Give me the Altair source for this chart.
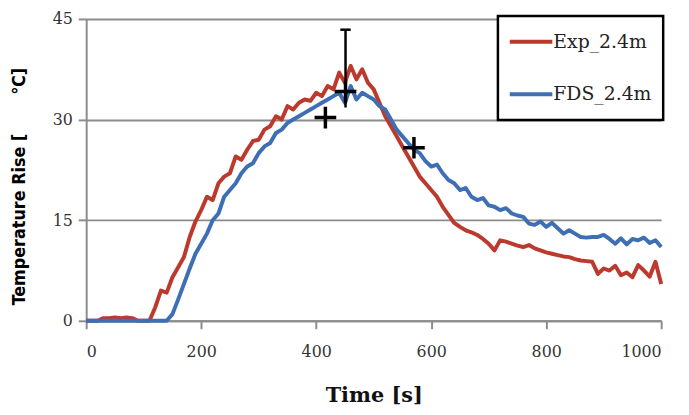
import altair as alt
import pandas as pd

# ---- data ----
exp_t = list(range(0, 1001, 10))
exp_v = [0, 0, 0, 0.4, 0.4, 0.5, 0.4, 0.5, 0.4, 0, 0, 0, 2.0, 4.5, 4.2, 6.5, 8.0, 9.5, 12.5, 14.8,
         16.5, 18.5, 18.0, 20.5, 21.5, 22.0, 24.5, 24.0, 25.5, 26.8, 27.0, 28.5, 29.0, 30.5, 30.0,
         32.0, 31.5, 32.5, 33.0, 32.8, 34.0, 33.5, 35.0, 34.5, 37.0, 35.5, 38.0, 36.0, 37.5, 35.5,
         34.5, 32.5, 30.5, 29.0, 27.5, 26.0, 24.5, 23.0, 21.5, 20.5, 19.5, 18.5, 17.0, 15.8, 14.6,
         14.0, 13.5, 13.2, 12.8, 12.2, 11.5, 10.5, 12.0, 11.8, 11.5, 11.2, 11.0, 11.3, 10.8, 10.5,
         10.2, 10.0, 9.8, 9.6, 9.5, 9.2, 9.0, 8.9, 8.8, 7.0, 7.8, 7.5, 8.2, 6.8, 7.2, 6.5, 8.3,
         7.5, 6.6, 8.8, 5.5]
fds_t = list(range(0, 1001, 10))
fds_v = [0, 0, 0, 0, 0, 0, 0, 0, 0, 0, 0, 0, 0, 0, 0, 1.0, 3.2, 5.5, 7.8, 10.0,
         11.5, 13.0, 15.0, 16.0, 18.5, 19.5, 20.5, 22.0, 23.0, 23.5, 25.0, 26.0, 26.5, 28.0, 28.5,
         29.5, 30.0, 30.5, 31.0, 31.5, 32.0, 32.5, 33.0, 33.5, 34.0, 32.5, 35.0, 33.0, 34.0, 33.5,
         33.0, 32.0, 31.5, 30.0, 28.5, 27.5, 26.5, 25.5, 25.0, 23.8, 23.0, 23.3, 22.0, 21.0, 20.5,
         19.5, 19.8, 18.5, 18.0, 18.3, 17.2, 17.0, 16.5, 16.8, 16.0, 15.7, 15.5, 14.5, 14.3, 14.8,
         14.0, 14.6, 13.8, 13.0, 13.5, 13.0, 12.5, 12.4, 12.5, 12.5, 12.8, 12.2, 11.5, 12.3, 11.4,
         12.2, 12.0, 12.4, 11.6, 12.0, 11.0]
series_names = ["Exp_2.4m", "FDS_2.4m"]
series_colors = ["#BC3A2D", "#3E6FB5"]

cross_t = [416, 451, 570]
cross_v = [30.3, 34.2, 25.8]
err_t = [451]
err_lo = [31.8]
err_hi = [43.4]

x_ticks = [0, 200, 400, 600, 800, 1000]
y_ticks = [0, 15, 30, 45]

# ---- tables ----
df = pd.concat([
    pd.DataFrame({"t": exp_t, "v": exp_v, "s": series_names[0], "o": 0}),
    pd.DataFrame({"t": fds_t, "v": fds_v, "s": series_names[1], "o": 1}),
])
cross_df = pd.DataFrame({"t": cross_t, "v": cross_v})
err_df = pd.DataFrame({"t": err_t, "lo": err_lo, "hi": err_hi})
leg_df = pd.DataFrame({"s": series_names, "c": series_colors})

serif = "DejaVu Serif"
grey = "#8C8C8C"

x_scale = alt.Scale(domain=[0, 1000], nice=False, zero=False)
y_scale = alt.Scale(domain=[0, 45], nice=False)
color_scale = alt.Scale(domain=series_names, range=series_colors)

lines = alt.Chart(df).mark_line(strokeWidth=4, strokeJoin="round").encode(
    x=alt.X("t:Q", scale=x_scale, axis=alt.Axis(
        values=x_ticks, format="d", title="Time [s]", grid=False, domainColor=grey,
        domainWidth=2, tickColor=grey, tickWidth=2, tickSize=8, labelFont=serif,
        labelFontSize=16, labelColor="#333333", labelPadding=15, titleFont=serif,
        titleFontSize=21, titleFontWeight="bold", titleColor="#111111",
        titleBaseline="alphabetic", titleY=82)),
    y=alt.Y("v:Q", scale=y_scale, axis=alt.Axis(
        values=y_ticks,
        title="Temperature Rise [\u00a0\u00a0\u00a0\u00a0\u00a0\u00a0\u00a0\u2103]",
        grid=True, gridColor=grey, gridWidth=2, gridOpacity=1,
        domainColor=grey, domainWidth=2, tickColor=grey, tickWidth=2, tickSize=8,
        labelFont=serif, labelFontSize=16, labelColor="#333333", labelPadding=6,
        titleFont="DejaVu Sans Condensed, Liberation Sans Narrow, DejaVu Sans",
        titleFontSize=18, titleFontWeight="bold", titleColor="#000000",
        titleX=-67, titleY=169, titleBaseline="middle", titleAngle=270)),
    color=alt.Color("s:N", scale=color_scale, legend=None),
    order="o:Q",
    detail="s:N",
)

err = alt.Chart(err_df).mark_rule(color="black", strokeWidth=2.5).encode(
    x="t:Q", y="lo:Q", y2="hi:Q")
cap = alt.Chart(err_df).mark_point(shape="M-1,0L1,0", size=110, color="black",
                                   strokeWidth=2.5, filled=False, opacity=1).encode(
    x="t:Q", y="hi:Q")
crosses = alt.Chart(cross_df).mark_point(shape="M-1,0L1,0M0,-1L0,1", size=480,
                                         color="black", strokeWidth=3.5, filled=False,
                                         opacity=1).encode(x="t:Q", y="v:Q")

# ---- legend (boxed, upper right) ----
leg_box = alt.Chart(pd.DataFrame({"k": [0]})).mark_rect(
    fill="white", stroke="black", strokeWidth=2.5).encode(
    x=alt.value(416), x2=alt.value(583), y=alt.value(-3), y2=alt.value(102))
leg_pos = alt.Chart(leg_df).transform_calculate(
    ly="datum.s == '" + series_names[0] + "' ? 23 : 76")
leg_lines = leg_pos.mark_rule(strokeWidth=4).encode(
    x=alt.value(428), x2=alt.value(471), y=alt.Y("ly:Q", scale=None),
    color=alt.Color("s:N", scale=color_scale, legend=None))
leg_text = leg_pos.mark_text(align="left", baseline="middle", font=serif, fontSize=19,
                             color="#222222").encode(
    x=alt.value(472), y=alt.Y("ly:Q", scale=None), text="s:N")

chart = alt.layer(lines, err, cap, crosses, leg_box, leg_lines, leg_text).properties(
    width=581, height=305,
    autosize=alt.AutoSizeParams(type="none"),
    padding={"left": 79, "top": 9, "right": 20, "bottom": 85},
    background="white",
).configure_view(stroke=None)

chart.save("out.html", embed_options={"renderer": "svg", "actions": False})
